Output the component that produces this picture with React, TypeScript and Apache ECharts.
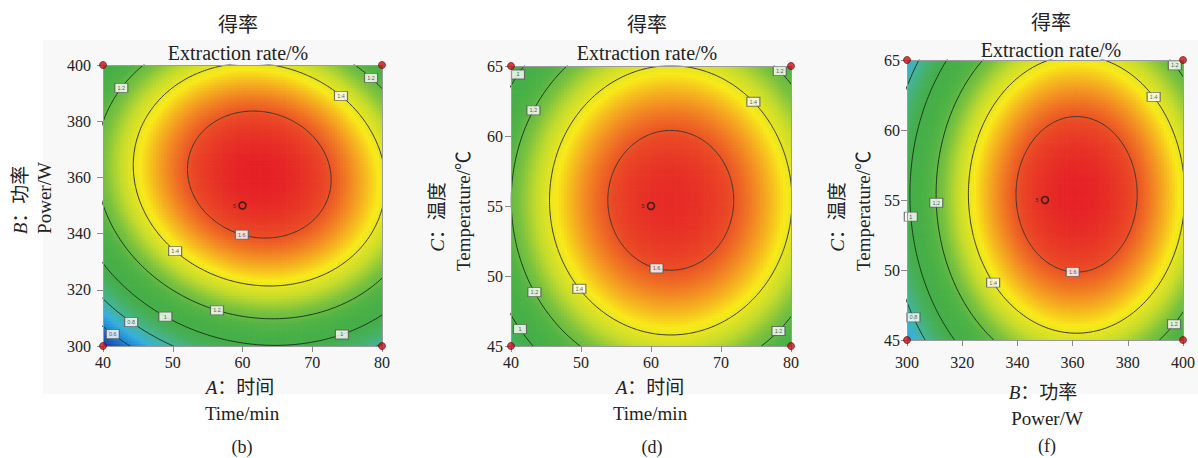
import React, { useEffect, useRef } from "react";
import * as echarts from "echarts";

// ---- Fitted response-surface model (coded factors, -1..1) ----
const intercept = 1.666;
const linearCoef = [0.103, 0.217, 0.024]; // A, B, C
const interactionCoef = [-0.068, 0.0, 0.0]; // AB, AC, BC
const quadraticCoef = [-0.365, -0.474, -0.296]; // A², B², C²

// ---- Factors ----
const factorLetter = ["A", "B", "C"];
const factorCn = ["时间", "功率", "温度"];
const factorEn = ["Time/min", "Power/W", "Temperature/℃"];
const factorLow = [40, 300, 45];
const factorHigh = [80, 400, 65];
const factorTickStep = [10, 20, 5];

// ---- Contours ----
const contourLevels = [0.6, 0.8, 1.0, 1.2, 1.4, 1.6];
const colorMin = 0.44;
const colorMax = 1.7;
const colorRamp = [
  "#1a3a9c", "#1c5cc0", "#2088d6", "#38b0dc", "#44b4a0",
  "#46b16a", "#45ae4a", "#46af47", "#52b445", "#7cc23e",
  "#c6dc2c", "#f8ea1a", "#f49a22", "#ea4a26", "#e51e26",
];

// ---- Panels: (x factor, y factor) ----
const panelFactors = [[0, 1], [0, 2], [1, 2]];
const panelTags = ["(b)", "(d)", "(f)"];
const centerReplicates = "5";

// contour label positions: [x, y, level]
const labelsB = [
  [42.4, 392.2, 1.2], [79.4, 397.5, 1.2], [74.4, 389.7, 1.4], [60.0, 340.5, 1.6],
  [50.4, 333.9, 1.4], [56.4, 313.2, 1.2], [49.0, 310.7, 1.0], [74.0, 305.3, 1.0],
  [44.0, 308.4, 0.8], [41.4, 304.2, 0.6],
];
const labelsD = [
  [40.5, 64.6, 1.0], [42.7, 62.0, 1.2], [78.5, 64.7, 1.2], [74.8, 62.55, 1.4],
  [60.9, 50.8, 1.6], [50.0, 49.2, 1.4], [43.5, 48.9, 1.2], [41.5, 46.3, 1.0],
  [78.0, 46.2, 1.2],
];
const labelsF = [
  [396.2, 64.4, 1.2], [388.7, 62.2, 1.4], [310.1, 54.8, 1.2], [301.0, 53.8, 1.0],
  [332.2, 49.3, 1.4], [360.1, 50.1, 1.6], [303.6, 46.8, 0.8], [397.6, 45.9, 1.2],
];
const panelLabels = [labelsB, labelsD, labelsF];

// ---- Layout (not data) ----
const grids = [
  { left: 103, top: 65, width: 279, height: 281 },
  { left: 511, top: 66, width: 280, height: 280 },
  { left: 907, top: 60, width: 279, height: 280 },
];
const yLabelMargin = [12, 8, 7];
const xLabelMargin = [8, 8, 14];
const FONT = '"Liberation Serif", "Noto Sans CJK SC", serif';
const GRID_N = 100;

const pairIndex = (i: number, j: number) => (i === 0 && j === 1 ? 0 : i === 0 && j === 2 ? 1 : 2);
const mid = (f: number) => (factorLow[f] + factorHigh[f]) / 2;
const half = (f: number) => (factorHigh[f] - factorLow[f]) / 2;
const toReal = (f: number, c: number) => mid(f) + c * half(f);
const toCoded = (f: number, r: number) => (r - mid(f)) / half(f);

function panelModel(i: number, j: number) {
  const bi = linearCoef[i], bj = linearCoef[j];
  const bij = interactionCoef[pairIndex(i, j)];
  const bii = quadraticCoef[i], bjj = quadraticCoef[j];
  const f = (x: number, y: number) =>
    intercept + bi * x + bj * y + bij * x * y + bii * x * x + bjj * y * y;
  const det = bii * bjj - (bij * bij) / 4;
  const cx = (-0.5 * (bjj * bi - (bij / 2) * bj)) / det;
  const cy = (-0.5 * (-(bij / 2) * bi + bii * bj)) / det;
  const fmax = f(cx, cy);
  const q = (c: number, s: number) => -(bii * c * c + bij * c * s + bjj * s * s);
  return { f, cx, cy, fmax, q };
}

function fmtLevel(v: number) {
  return Number.isInteger(v) ? String(v) : v.toFixed(1);
}

function textEl(text: string, x: number, y: number, size: number, rotate = false, rich = false) {
  const style: any = {
    text,
    fontSize: size,
    fontFamily: FONT,
    fill: "#222",
    align: "center",
    verticalAlign: "middle",
    textAlign: "center",
    textVerticalAlign: "middle",
  };
  if (rich) {
    style.rich = {
      i: { fontStyle: "italic", fontSize: size, fontFamily: FONT, fill: "#222" },
      n: { fontSize: size, fontFamily: FONT, fill: "#222" },
    };
  }
  return {
    type: "text",
    x,
    y,
    rotation: rotate ? Math.PI / 2 : 0,
    silent: true,
    z: 20,
    style,
  };
}

function buildOption() {
  const xAxis: any[] = [];
  const yAxis: any[] = [];
  const heatSeries: any[] = [];
  const otherSeries: any[] = [];

  panelFactors.forEach(([fi, fj], p) => {
    const m = panelModel(fi, fj);
    const axisCommon = {
      gridIndex: p,
      type: "value",
      z: 10,
      splitLine: { show: false },
      axisLine: { show: true, onZero: false, lineStyle: { color: "#9a9a9a", width: 1 } },
      axisTick: { show: true, length: 6, lineStyle: { color: "#8a8a8a" } },
    };
    xAxis.push({
      ...axisCommon,
      position: "bottom",
      min: factorLow[fi],
      max: factorHigh[fi],
      interval: factorTickStep[fi],
      axisLabel: { fontSize: 16, fontFamily: FONT, color: "#222", margin: xLabelMargin[p] },
    });
    yAxis.push({
      ...axisCommon,
      position: "left",
      min: factorLow[fj],
      max: factorHigh[fj],
      interval: factorTickStep[fj],
      axisLabel: { fontSize: 16, fontFamily: FONT, color: "#222", margin: yLabelMargin[p] },
    });

    // heat cells
    const cells: number[][] = [];
    const dxc = 2 / GRID_N;
    for (let a = 0; a < GRID_N; a++) {
      for (let b = 0; b < GRID_N; b++) {
        const u = -1 + dxc * (a + 0.5);
        const v = -1 + dxc * (b + 0.5);
        cells.push([toReal(fi, u), toReal(fj, v), +m.f(u, v).toFixed(4)]);
      }
    }
    const dX = (factorHigh[fi] - factorLow[fi]) / GRID_N;
    const dY = (factorHigh[fj] - factorLow[fj]) / GRID_N;
    heatSeries.push({
      type: "custom",
      xAxisIndex: p,
      yAxisIndex: p,
      silent: true,
      clip: true,
      z: 1,
      encode: { x: 0, y: 1 },
      data: cells,
      renderItem: (params: any, api: any) => {
        const x = api.value(0);
        const y = api.value(1);
        const p0 = api.coord([x - dX / 2, y + dY / 2]);
        const p1 = api.coord([x + dX / 2, y - dY / 2]);
        return {
          type: "rect",
          shape: { x: p0[0], y: p0[1], width: p1[0] - p0[0] + 0.7, height: p1[1] - p0[1] + 0.7 },
          style: { fill: api.visual("color") },
        };
      },
    });

    // contour lines
    contourLevels.forEach((L) => {
      if (L >= m.fmax) return;
      const pts: number[][] = [];
      const STEPS = 360;
      for (let k = 0; k <= STEPS; k++) {
        const t = (k / STEPS) * Math.PI * 2;
        const c = Math.cos(t), s = Math.sin(t);
        const r = Math.sqrt((m.fmax - L) / m.q(c, s));
        pts.push([toReal(fi, m.cx + r * c), toReal(fj, m.cy + r * s)]);
      }
      otherSeries.push({
        type: "line",
        xAxisIndex: p,
        yAxisIndex: p,
        data: pts,
        showSymbol: false,
        symbol: "none",
        silent: true,
        clip: true,
        z: 3,
        lineStyle: { color: L >= 1.4 ? "#3a3a30" : "#1f3a22", width: 1 },
      });
    });

    // contour labels snapped to the contour
    const lab = panelLabels[p].map(([x, y, L]) => {
      const u = toCoded(fi, x) - m.cx;
      const v = toCoded(fj, y) - m.cy;
      const len = Math.hypot(u, v) || 1;
      const c = u / len, s = v / len;
      const r = Math.sqrt(Math.max(0, m.fmax - L) / m.q(c, s));
      return [toReal(fi, m.cx + r * c), toReal(fj, m.cy + r * s), L];
    });
    otherSeries.push({
      type: "scatter",
      xAxisIndex: p,
      yAxisIndex: p,
      data: lab,
      symbol: "rect",
      symbolSize: [13, 9],
      silent: true,
      clip: false,
      z: 5,
      itemStyle: { color: "#ffffff", borderColor: "#555", borderWidth: 1 },
      label: {
        show: true,
        position: "inside",
        fontSize: 5.5,
        color: "#333",
        formatter: (d: any) => fmtLevel(d.value[2]),
      },
    });

    // design points: corners
    const corners = [
      [factorLow[fi], factorLow[fj]], [factorLow[fi], factorHigh[fj]],
      [factorHigh[fi], factorLow[fj]], [factorHigh[fi], factorHigh[fj]],
    ];
    otherSeries.push({
      type: "scatter",
      xAxisIndex: p,
      yAxisIndex: p,
      data: corners,
      symbol: "circle",
      symbolSize: 7,
      silent: true,
      clip: false,
      z: 12,
      itemStyle: { color: "#c0121c", borderColor: "#6a0000", borderWidth: 0.8 },
    });
    // center point
    otherSeries.push({
      type: "scatter",
      xAxisIndex: p,
      yAxisIndex: p,
      data: [[mid(fi), mid(fj)]],
      symbol: "circle",
      symbolSize: 7,
      silent: true,
      clip: false,
      z: 12,
      itemStyle: { color: "rgba(0,0,0,0)", borderColor: "#1a1a1a", borderWidth: 1.6 },
      label: {
        show: true,
        position: "left",
        distance: 2,
        fontSize: 6,
        color: "#222",
        formatter: centerReplicates,
      },
    });
  });

  // frame axes (top / right)
  panelFactors.forEach(([fi, fj], p) => {
    const frame = {
      gridIndex: p,
      type: "value",
      z: 10,
      axisLine: { show: true, onZero: false, lineStyle: { color: "#9a9a9a", width: 1 } },
      axisTick: { show: false },
      axisLabel: { show: false },
      splitLine: { show: false },
    };
    xAxis.push({ ...frame, position: "top", min: factorLow[fi], max: factorHigh[fi] });
    yAxis.push({ ...frame, position: "right", min: factorLow[fj], max: factorHigh[fj] });
  });

  // texts
  const gfx: any[] = [
    {
      type: "rect",
      shape: { x: 43, y: 40, width: 1155, height: 354 },
      style: { fill: "#f8f8f8" },
      silent: true,
      z: -10,
    },
  ];
  const titleX = [238, 647, 1051];
  const titleY1 = [25, 25, 23];
  const titleY2 = [53, 53, 50];
  const xNameX = [240, 650, 1043];
  const xNameY = [387, 387, 392];
  const xEnX = [242, 650, 1047];
  const xEnY = [413, 413, 418];
  const tagX = [242, 652, 1047];
  const tagY = [447, 447, 446];
  const yNameX = [20, 437, 837];
  const yNameY = [200, 217, 217];
  const yEnX = [44, 463, 863];
  const yEnY = [198, 211, 211];
  panelFactors.forEach(([fi, fj], p) => {
    gfx.push(textEl("得率", titleX[p], titleY1[p], 20));
    gfx.push(textEl("Extraction rate/%", titleX[p], titleY2[p], 20));
    gfx.push(textEl(`{i|${factorLetter[fi]}}{n|：${factorCn[fi]}}`, xNameX[p], xNameY[p], 19, false, true));
    gfx.push(textEl(factorEn[fi], xEnX[p], xEnY[p], 19));
    gfx.push(textEl(panelTags[p], tagX[p], tagY[p], 18));
    gfx.push(textEl(`{i|${factorLetter[fj]}}{n|：${factorCn[fj]}}`, yNameX[p], yNameY[p], 19, true, true));
    gfx.push(textEl(factorEn[fj], yEnX[p], yEnY[p], 19, true));
  });

  return {
    animation: false,
    backgroundColor: "#ffffff",
    grid: grids.map((g) => ({ ...g, containLabel: false })),
    xAxis,
    yAxis,
    visualMap: {
      type: "continuous",
      show: false,
      min: colorMin,
      max: colorMax,
      dimension: 2,
      seriesIndex: heatSeries.map((_, i) => i),
      inRange: { color: colorRamp },
    },
    graphic: gfx,
    series: [...heatSeries, ...otherSeries],
  };
}

export default function App() {
  const ref = useRef<HTMLDivElement>(null);
  useEffect(() => {
    if (!ref.current) return;
    const chart = echarts.init(ref.current, null, { renderer: "svg" });
    chart.setOption(buildOption() as any);
    return () => chart.dispose();
  }, []);
  return (
    <div
      ref={ref}
      style={{ position: "absolute", left: 0, top: 0, width: 1198, height: 458 }}
    />
  );
}
